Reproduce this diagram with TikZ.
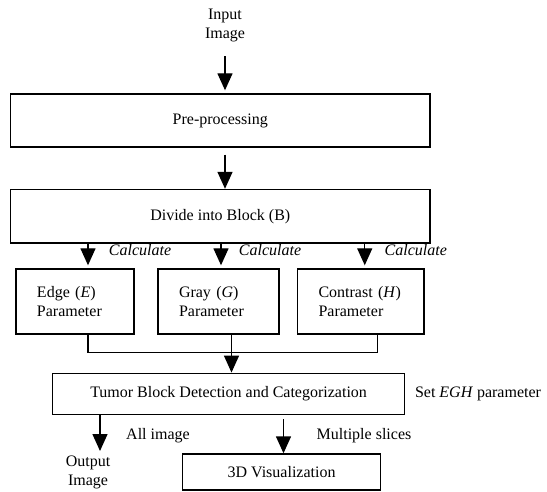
\documentclass[tikz,border=0pt]{standalone}
\usepackage{fontspec}
\setmainfont{Liberation Serif}
\usetikzlibrary{arrows.meta,positioning}
\begin{document}
\begin{tikzpicture}[x=1pt,y=-1pt,
	font=\fontsize{16}{19}\selectfont,
	box/.style={draw,line width=1.4pt,inner sep=0pt},
	parbox/.style={box,align=left,inner xsep=21pt,minimum height=65pt},
	arr/.style={line width=1.4pt,-{Triangle[width=15pt,length=17pt]}},
	lbl/.style={inner sep=0pt,align=center}]
		\useasboundingbox (0,0) rectangle (547,492);
		%Main Blocks
		\node[lbl] (input) at (225,25.5) {Input\\Image};
		\node[box,minimum width=419.5pt,minimum height=53pt] (pre) at (220.25,120.5) {Pre-processing};
		\node[box,minimum width=419.5pt,minimum height=53.5pt] (divide) at (220.25,216.25) {Divide into Block (B)};
		\node[parbox,text width=76pt] (edge) at (75,301.5) {Edge (\textit{E})\\Parameter};
		\node[parbox,text width=79pt] (gray) at (218.5,301.5) {Gray (\textit{G})\\Parameter};
		\node[parbox,text width=84.5pt] (contrast) at (360.75,301.5) {Contrast (\textit{H})\\Parameter};
		\node[box,minimum width=352pt,minimum height=41.5pt] (tumor) at (228.6,394) {Tumor Block Detection and Categorization};
		\node[box,minimum width=198pt,minimum height=36pt] (vis) at (281.6,472) {3D Visualization};
		\node[lbl] (output) at (88,472.5) {Output\\Image};
		%Side Labels
		\node[lbl] (egh) at (478,394) {Set \textit{EGH} parameter};
		\node[lbl] (all) at (158,436) {All image};
		\node[lbl] (multi) at (364,436) {Multiple slices};
		%Flow
		\draw[arr,shorten <=14pt,shorten >=3pt] (input) -- (input |- pre.north);
		\draw[arr,shorten <=7pt] (input |- pre.south) -- (input |- divide.north);
		%Calculate Arrows
		\foreach \b/\s/\d in {edge/13/65, gray/2.5/51.5, contrast/4/55}
		{
		\draw[arr,shorten >=3pt] ([xshift=\s pt]\b.north |- divide.south) -- ([xshift=\s pt]\b.north);
		\node[lbl] at ([xshift=\d pt,yshift=18.5pt]\b.north) {\textit{Calculate}};
		}
		%Merge Lines
		\coordinate (ej) at ([xshift=13pt]edge.south);
		\coordinate (gj) at ([xshift=13pt]gray.south);
		\coordinate (cj) at ([xshift=17pt]contrast.south);
		\draw[line width=1.4pt] (ej) -- ++(0,17.6) -| (cj);
		\draw[arr] (gj) -- (gj |- tumor.north);
		%Outputs
		\coordinate (outj) at (100,451);
		\coordinate (visj) at (283.5,419);
		\draw[arr] (outj |- tumor.south) -- (outj);
		\draw[arr] (visj) -- (visj |- vis.north);
		\end{tikzpicture}
\end{document}
